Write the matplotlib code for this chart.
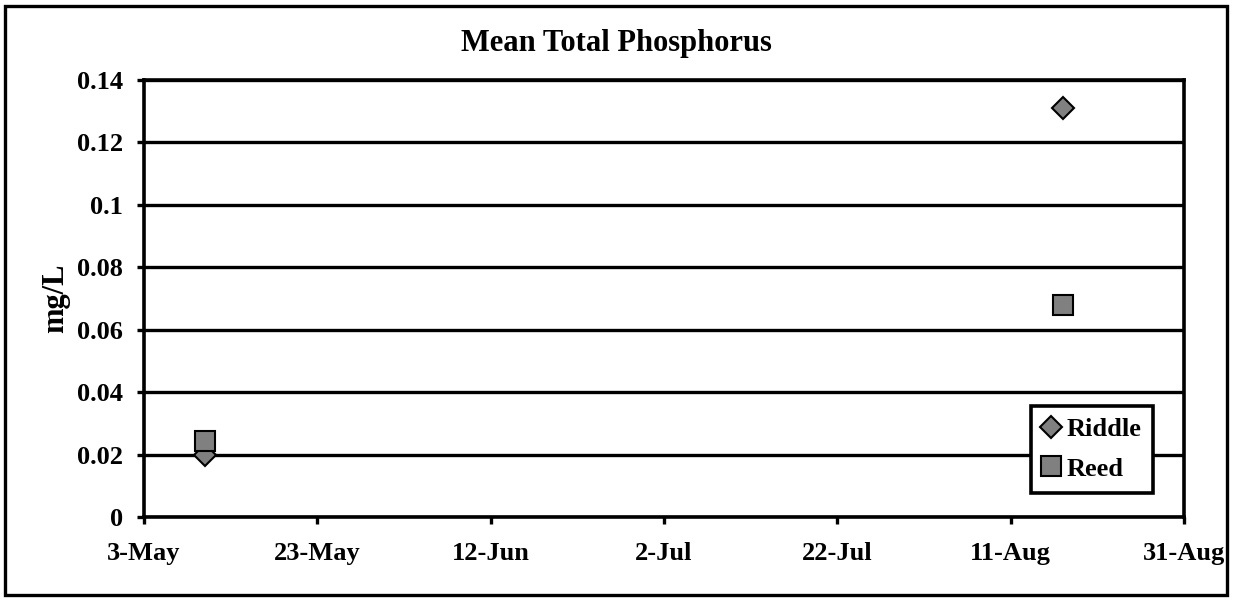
import datetime as dt

import matplotlib
matplotlib.use('Agg')
import matplotlib.dates as mdates
from matplotlib import pyplot as plt
from matplotlib.patches import Rectangle

riddle_dates = [dt.date(2008, 5, 10), dt.date(2008, 8, 17)]
riddle_tp = [0.020, 0.131]
reed_dates = [dt.date(2008, 5, 10), dt.date(2008, 8, 17)]
reed_tp = [0.0245, 0.068]

x_ticks = [dt.date(2008, 5, 3) + dt.timedelta(days=20 * i) for i in range(7)]
y_ticks = [0, 0.02, 0.04, 0.06, 0.08, 0.1, 0.12, 0.14]
y_labels = ['0', '0.02', '0.04', '0.06', '0.08', '0.1', '0.12', '0.14']

plt.rcParams['font.family'] = ['Liberation Serif', 'DejaVu Serif']
plt.rcParams['font.weight'] = 'bold'

fig = plt.figure(figsize=(12.33, 6.0), dpi=100)
ax = fig.add_axes([144 / 1233, 1 - 517 / 600, 1040 / 1233, 437 / 600])

ax.plot(riddle_dates, riddle_tp, linestyle='none', marker='D', markersize=11,
        markerfacecolor='#808080', markeredgecolor='black', markeredgewidth=1.5,
        label='Riddle', zorder=3)
ax.plot(reed_dates, reed_tp, linestyle='none', marker='s', markersize=14,
        markerfacecolor='#808080', markeredgecolor='black', markeredgewidth=1.5,
        label='Reed', zorder=4)

ax.set_xlim(x_ticks[0], x_ticks[-1])
ax.set_ylim(0, 0.14)
ax.set_xticks(x_ticks)
ax.xaxis.set_major_formatter(mdates.DateFormatter('%-d-%b'))
ax.set_yticks(y_ticks)
ax.set_yticklabels(y_labels)
ax.yaxis.grid(True, color='black', linewidth=2.4)
ax.set_axisbelow(True)
for s in ax.spines.values():
    s.set_linewidth(2.6)
ax.tick_params(axis='both', direction='out', length=5, width=2.4,
               labelsize=19)
ax.tick_params(axis='x', pad=13)
ax.tick_params(axis='y', pad=10)
for lbl in ax.get_xticklabels() + ax.get_yticklabels():
    lbl.set_fontweight('bold')

ax.set_ylabel('mg/L', fontsize=22, fontweight='bold')
ax.yaxis.set_label_coords((70 - 144) / 1040, 0.5)
fig.text(616 / 1233, 1 - 43 / 600, 'Mean Total Phosphorus', fontsize=22,
         fontweight='bold', ha='center', va='center')

leg = ax.legend(loc='upper left', bbox_to_anchor=((1031 - 144) / 1040, (517 - 406) / 437),
                fontsize=19, frameon=True, fancybox=False, handlelength=0.6,
                handletextpad=0.3, borderpad=0.45, labelspacing=0.6,
                borderaxespad=0, markerscale=1.0)
leg.get_frame().set_edgecolor('black')
leg.get_frame().set_linewidth(2.6)
leg.get_frame().set_alpha(1)

fig.patches.append(Rectangle((5 / 1233, 5 / 600), 1222 / 1233, 589 / 600,
                             transform=fig.transFigure, fill=False,
                             edgecolor='black', linewidth=2.4))

fig.savefig('out.png', dpi=100)
